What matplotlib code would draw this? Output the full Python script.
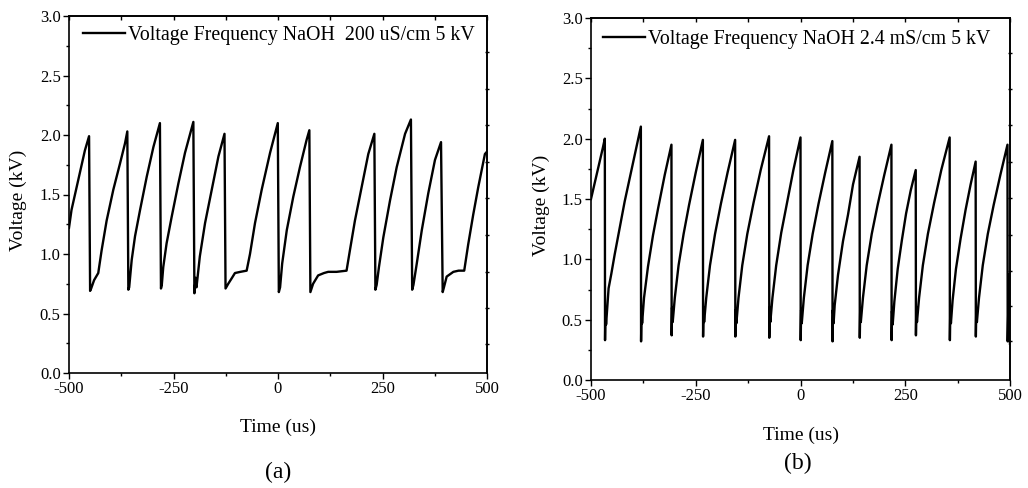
import matplotlib
matplotlib.use('Agg')
import matplotlib.pyplot as plt
from matplotlib.ticker import MultipleLocator

plt.rcParams['font.family'] = ['Liberation Serif', 'DejaVu Serif']
plt.rcParams['axes.unicode_minus'] = False

# (a) NaOH 200 uS/cm, 5 kV
time_a = [-500, -494, -478, -462, -452,
          -449.5, -447, -440, -430, -422, -410, -394, -378, -366, -360.5,
          -358, -356, -350, -342, -330, -314, -298, -282.5,
          -280, -278, -274.5, -266.5, -254.5, -238.5, -222.5, -202.5,
          -200, -197, -195, -187, -174.5, -158.5, -142.5, -128,
          -125.5, -119, -110, -103, -90, -75, -67, -55, -39, -19, -0.5,
          2, 5, 10, 21, 36.5, 52.5, 68.5, 75,
          77.5, 84, 96, 110, 120, 140, 164, 172, 184, 200, 216, 230.5,
          233, 236, 241.5, 252, 268, 284, 304, 318,
          321, 324, 332, 344, 359.5, 375.5, 390,
          394, 397, 403.5, 419.5, 432, 445.5, 455, 467, 479, 495, 500]
volt_a = [1.22, 1.37, 1.62, 1.87, 1.99,
          0.69, 0.71, 0.78, 0.84, 1.03, 1.28, 1.54, 1.76, 1.93, 2.03,
          0.70, 0.72, 0.95, 1.15, 1.37, 1.65, 1.90, 2.10,
          0.71, 0.74, 0.89, 1.09, 1.31, 1.59, 1.85, 2.11,
          0.67, 0.80, 0.72, 0.98, 1.26, 1.54, 1.82, 2.01,
          0.71, 0.75, 0.80, 0.84, 0.85, 0.86, 1.00, 1.26, 1.54, 1.85, 2.10,
          0.68, 0.72, 0.92, 1.20, 1.48, 1.73, 1.96, 2.04,
          0.68, 0.75, 0.82, 0.84, 0.85, 0.85, 0.86, 1.03, 1.28, 1.56, 1.84, 2.01,
          0.70, 0.74, 0.89, 1.14, 1.45, 1.73, 2.01, 2.13,
          0.70, 0.74, 0.92, 1.20, 1.51, 1.79, 1.94,
          0.68, 0.72, 0.81, 0.85, 0.86, 0.86, 1.08, 1.33, 1.56, 1.84, 1.86]

# (b) NaOH 2.4 mS/cm, 5 kV
time_b = [-500, -490, -480, -472, -467,
          -466.5, -465.5, -464, -458, -451.5, -443.5, -431.5, -419.6, -404, -392, -381,
          -380.5, -379.5, -378, -373.5, -364, -352, -340, -324, -308,
          -307.5, -306.5, -305, -300, -291, -279, -266, -250, -233,
          -232.5, -231.5, -230, -225, -216, -204, -190, -174, -156,
          -155.5, -154.5, -153, -148, -139, -127, -112, -95, -75,
          -74.5, -73.5, -72, -67, -58, -46, -32, -17, 0,
          0.5, 1.5, 3, 8, 17, 29, 43, 59, 76,
          76.5, 77.5, 79, 81.6, 89.5, 101.4, 113.4, 125.3, 141,
          141.5, 142.5, 144, 149, 158, 170, 184, 200, 217,
          217.5, 218.5, 220, 224, 232, 242, 252, 263, 275,
          275.5, 276.5, 278, 283, 292, 304, 319, 336, 356,
          356.5, 357.5, 359, 363, 371, 382, 394, 406, 418,
          418.5, 419.5, 421, 426, 435, 447, 461, 477, 494,
          494.5, 496, 497.5, 499, 500]
volt_b = [1.50, 1.65, 1.80, 1.92, 2.00,
          0.33, 0.58, 0.46, 0.76, 0.88, 1.04, 1.26, 1.48, 1.73, 1.92, 2.10,
          0.32, 0.58, 0.47, 0.68, 0.94, 1.20, 1.42, 1.70, 1.95,
          0.37, 0.60, 0.48, 0.68, 0.95, 1.21, 1.45, 1.72, 1.99,
          0.36, 0.60, 0.48, 0.68, 0.95, 1.21, 1.46, 1.72, 1.99,
          0.36, 0.58, 0.47, 0.68, 0.95, 1.21, 1.47, 1.74, 2.02,
          0.35, 0.60, 0.48, 0.68, 0.95, 1.22, 1.47, 1.74, 2.01,
          0.33, 0.58, 0.47, 0.68, 0.95, 1.21, 1.46, 1.72, 1.98,
          0.32, 0.58, 0.47, 0.62, 0.87, 1.15, 1.37, 1.62, 1.85,
          0.35, 0.58, 0.48, 0.68, 0.95, 1.21, 1.45, 1.70, 1.95,
          0.33, 0.57, 0.46, 0.65, 0.92, 1.16, 1.38, 1.57, 1.74,
          0.37, 0.60, 0.48, 0.68, 0.95, 1.21, 1.47, 1.74, 2.01,
          0.33, 0.58, 0.47, 0.66, 0.92, 1.17, 1.41, 1.62, 1.81,
          0.36, 0.58, 0.48, 0.68, 0.95, 1.21, 1.45, 1.70, 1.95,
          0.32, 0.60, 0.38, 0.88, 0.30]

label_a = 'Voltage Frequency NaOH  200 uS/cm 5 kV'
label_b = 'Voltage Frequency NaOH 2.4 mS/cm 5 kV'
time_ticks = [-500, -250, 0, 250, 500]

# odd spacing of the little ticks on the right-hand spine
right_ticks_a = [2.70, 2.39, 2.08, 1.77, 1.47, 1.16, 0.85, 0.55, 0.24]
right_ticks_b = [2.71, 2.41, 2.11, 1.81, 1.51, 1.20, 0.90, 0.61, 0.32]

fig = plt.figure(figsize=(10.28, 4.88), dpi=100)
ax1 = fig.add_axes([69 / 1028, 1 - 373 / 488, 418 / 1028, 357 / 488])
ax2 = fig.add_axes([591 / 1028, 1 - 380 / 488, 419 / 1028, 362 / 488])

panels = [(ax1, time_a, volt_a, label_a, right_ticks_a, (0.034, 0.972)),
          (ax2, time_b, volt_b, label_b, right_ticks_b, (0.029, 0.968))]

for ax, t, v, lab, rt, lpos in panels:
    ax.plot(t, v, color='black', lw=1.7, label=lab)
    ax.set_xlim(-500, 500)
    ax.set_ylim(0, 3.0)
    ax.set_xticks(time_ticks)
    ax.xaxis.set_minor_locator(MultipleLocator(125))
    ax.yaxis.set_major_locator(MultipleLocator(0.5))
    ax.yaxis.set_minor_locator(MultipleLocator(0.25))
    ax.tick_params(axis='both', which='major', direction='out', length=4,
                   width=1, labelsize=12, pad=2)
    ax.tick_params(axis='both', which='minor', direction='out', length=2.5, width=1)
    for s in ax.spines.values():
        s.set_linewidth(1.2)

    # top spine: ticks pointing in, no labels
    top = ax.secondary_xaxis('top')
    top.set_xticks(time_ticks)
    top.xaxis.set_minor_locator(MultipleLocator(125))
    top.tick_params(which='both', direction='in', length=3, width=1, labeltop=False)
    top.spines['top'].set_linewidth(1.2)

    # right spine
    sec = ax.secondary_yaxis('right')
    sec.set_yticks(rt)
    sec.tick_params(direction='inout', length=3, width=1, labelright=False)
    sec.spines['right'].set_linewidth(1.2)

    ax.legend(loc='upper left', frameon=False, fontsize=14.3, handlelength=2.1,
              handletextpad=0.15, borderpad=0, borderaxespad=0, bbox_to_anchor=lpos)

fig.text(278 / 1028, 1 - 427 / 488, 'Time (us)', ha='center', va='center', fontsize=14)
fig.text(801 / 1028, 1 - 435 / 488, 'Time (us)', ha='center', va='center', fontsize=14)
fig.text(18 / 1028, 1 - 200 / 488, 'Voltage (kV)', ha='center', va='center',
         rotation=90, fontsize=14)
fig.text(541 / 1028, 1 - 205 / 488, 'Voltage (kV)', ha='center', va='center',
         rotation=90, fontsize=14)
fig.text(278 / 1028, 1 - 472 / 488, '(a)', ha='center', va='center', fontsize=17)
fig.text(798 / 1028, 1 - 463 / 488, '(b)', ha='center', va='center', fontsize=17)

fig.savefig('out.png', dpi=100)
